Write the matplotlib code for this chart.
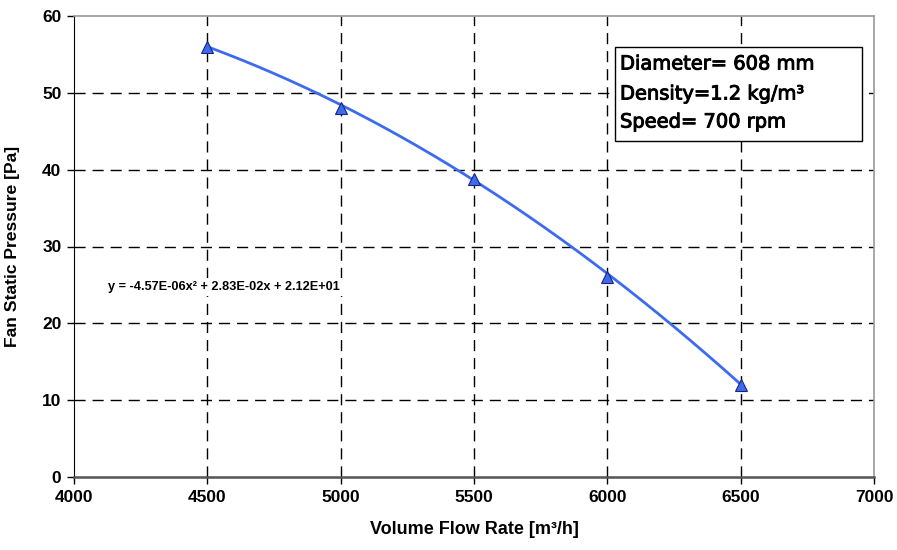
import numpy as np
import matplotlib
matplotlib.use("Agg")
import matplotlib.pyplot as plt
import matplotlib.patheffects as pe
from matplotlib.patches import Rectangle

# Data
flow = [4500, 5000, 5500, 6000, 6500]
pressure = [56.0, 48.0, 38.8, 26.0, 12.0]
trend_coeffs = [-4.57e-06, 2.83e-02, 2.12e+01]
x_ticks = [4000, 4500, 5000, 5500, 6000, 6500, 7000]
y_ticks = [0, 10, 20, 30, 40, 50, 60]
equation = "y = -4.57E-06x\u00b2 + 2.83E-02x + 2.12E+01"
info_lines = ["Diameter= 608 mm", "Density=1.2 kg/m\u00b3", "Speed= 700 rpm"]
xlabel = "Volume Flow Rate [m\u00b3/h]"
ylabel = "Fan Static Pressure [Pa]"

fig = plt.figure(figsize=(8.97, 5.5), dpi=100)
ax = fig.add_axes([74/897, 73/550, 800/897, 461/550])

# grid
for xv in x_ticks[1:-1]:
    ax.axvline(xv, color="black", lw=1.0, dashes=(8, 5), zorder=1)
for yv in y_ticks[1:-1]:
    ax.axhline(yv, color="black", lw=1.0, dashes=(8, 5), zorder=1)

# trendline
xs = np.linspace(flow[0], flow[-1], 200)
ax.plot(xs, np.polyval(trend_coeffs, xs), color="#3d6bf0", lw=2.0, zorder=3)
ax.plot(flow, pressure, linestyle="none", marker="^", markersize=8,
        markerfacecolor="#3d6bf0", markeredgecolor="#1a237e", markeredgewidth=0.8, zorder=4)

ax.set_xlim(4000, 7000)
ax.set_ylim(0, 60)
ax.set_xticks(x_ticks)
ax.set_yticks(y_ticks)
tickfont = dict(family="Liberation Sans", weight="bold", size=12.5)
ax.set_xticklabels([str(v) for v in x_ticks], **tickfont)
ax.set_yticklabels([str(v) for v in y_ticks], **tickfont)
ax.tick_params(direction="out", length=5, width=1, color="black", pad=4)

for s in ["top", "right"]:
    ax.spines[s].set_color("#999999")
    ax.spines[s].set_linewidth(1.2)
ax.spines["left"].set_color("black")
ax.spines["bottom"].set_color("#555555")
ax.spines["bottom"].set_linewidth(1.8)

ax.set_xlabel(xlabel, family="Liberation Sans", weight="bold", size=13, labelpad=12)
ax.set_ylabel(ylabel, family="Liberation Sans", weight="bold", size=12.6)
ax.yaxis.set_label_coords(-0.067, 0.5)

ax.text(108, 550 - 287, equation, transform=None, fontsize=9.2, family="Liberation Sans",
        weight="bold", va="center", ha="left", zorder=5,
        bbox=dict(facecolor="white", edgecolor="none", pad=2))

# info box
fig.patches.append(Rectangle((615/897, (550-141)/550), (862-615)/897, (141-47)/550,
                             transform=fig.transFigure, facecolor="white",
                             edgecolor="black", lw=1.0, zorder=5))
ys = [64, 94, 122]
for line, yy in zip(info_lines, ys):
    fig.text(620/897, (550-yy)/550, line, fontsize=14, family="DejaVu Sans",
             va="center", ha="left", zorder=6,
             path_effects=[pe.withStroke(linewidth=0.7, foreground="black")])

fig.savefig("out.png", dpi=100)
